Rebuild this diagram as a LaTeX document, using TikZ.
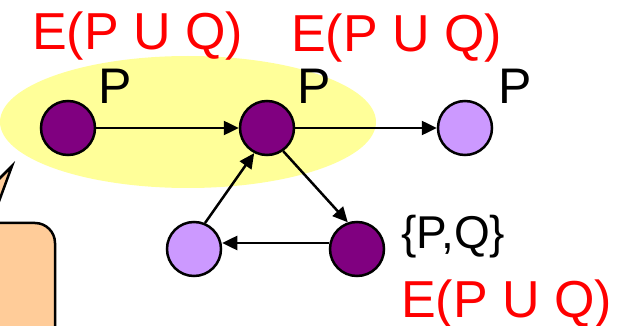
\documentclass[tikz,border=0pt]{standalone}
\usepackage{fontspec}
\setmainfont{Liberation Sans}
\usetikzlibrary{arrows.meta}
\definecolor{darkp}{HTML}{800080}
\definecolor{lightp}{HTML}{CC99FF}
\definecolor{hilite}{HTML}{FFFF99}
\definecolor{peach}{HTML}{FFCC99}
\definecolor{redtxt}{HTML}{FF0000}
\begin{document}
\begin{tikzpicture}[x=1pt,y=-1pt,
  dark/.style={circle, draw=black, line width=2.5pt, fill=darkp, minimum size=54pt, inner sep=0pt},
  light/.style={circle, draw=black, line width=2.5pt, fill=lightp, minimum size=54pt, inner sep=0pt},
  arr/.style={line width=2.5pt, -{Triangle[length=15pt,width=14pt]}},
  redlbl/.style={anchor=base west, inner sep=0pt, text=redtxt, font=\fontsize{52}{60}\selectfont},
  plbl/.style={anchor=base west, inner sep=0pt, text=black, font=\fontsize{50}{60}\selectfont},
  setlbl/.style={anchor=base west, inner sep=0pt, text=black, font=\fontsize{46}{56}\selectfont}]
\useasboundingbox (0,0) rectangle (619,326);
\begin{scope}
  \clip (0,0) rectangle (619,326);
  \fill[hilite] (188,122) ellipse [x radius=188, y radius=66];
  \draw[line width=2.5pt, fill=peach]
    (-60,340) -- (-60,223) -- (-45,223) -- (12,166) -- (-9,223) -- (35,223)
    arc[start angle=-90, end angle=0, radius=20] -- (55,340) -- cycle;
\end{scope}
% nodes
\node[dark]  (A) at (68,128) {};
\node[dark]  (B) at (267,128) {};
\node[light] (C) at (465,128) {};
\node[light] (D) at (194,249) {};
\node[dark]  (E) at (357,249) {};
% labels
\node[redlbl] (l1) at (32,50) {E(P U Q)};
\node[redlbl] (l2) at (291,52) {E(P U Q)};
\node[redlbl] (l3) at (401,317) {E(P U Q)};
\node[plbl] (pA) at (98,104) {P};
\node[plbl] (pB) at (297,104) {P};
\node[plbl] (pC) at (498,104) {P};
\node[setlbl] (pE) at (401,248) {\{P,Q\}};
% edges
\draw[arr] (A) -- (B);
\draw[arr] (B) -- (C);
\draw[arr] (B.-55) -- (E.109);
\draw[arr] (D.67) -- (B.-117);
\draw[arr] ([yshift=6pt]E.west) -- ([yshift=6pt]D.east);
\end{tikzpicture}
\end{document}
